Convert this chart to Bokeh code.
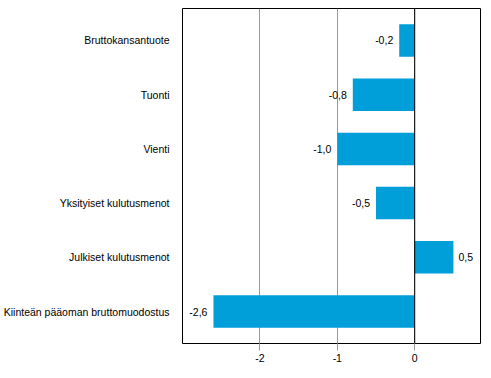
from bokeh.plotting import figure
from bokeh.models import ColumnDataSource, FactorRange, Range1d, FixedTicker, LabelSet, Span
from bokeh.core.properties import value
from bokeh.embed import file_html
from bokeh.resources import INLINE

categories = ["Bruttokansantuote", "Tuonti", "Vienti", "Yksityiset kulutusmenot",
              "Julkiset kulutusmenot", "Kiinteän pääoman bruttomuodostus"]
values = [-0.2, -0.8, -1.0, -0.5, 0.5, -2.6]
x_ticks = [-2, -1, 0]

FONT = "Liberation Sans"
FS = "10.5px"
labels = [("%.1f" % v).replace(".", ",") for v in values]
aligns = ["right" if v < 0 else "left" for v in values]
offsets = [-6 if v < 0 else 5 for v in values]

src = ColumnDataSource(dict(cat=categories, val=values, lab=labels, al=aligns, off=offsets))

p = figure(output_backend="svg", toolbar_location=None,
           y_range=FactorRange(factors=categories[::-1], range_padding=0.09,
                               range_padding_units="absolute"),
           x_range=Range1d(-3.0, 0.85),
           frame_width=298, frame_height=335,
           min_border_left=179, min_border_top=8, min_border_right=1, min_border_bottom=27)

p.hbar(y="cat", left=0, right="val", height=0.6, source=src, color="#009fda", line_color=None)

p.add_layout(Span(location=0, dimension="height", line_color="black", line_width=1))

p.add_layout(LabelSet(x="val", y="cat", text="lab", text_align="al", x_offset="off",
                      text_baseline="middle", source=src, text_font=value(FONT),
                      text_font_size=value(FS), text_color="#000000"))

p.outline_line_color = "black"
p.outline_line_width = 1
p.outline_line_alpha = 1

p.xaxis.ticker = FixedTicker(ticks=x_ticks)
p.xaxis.major_label_overrides = {t: str(t) for t in x_ticks}
p.xgrid.ticker = FixedTicker(ticks=x_ticks)
p.xgrid.grid_line_color = "#999999"
p.ygrid.grid_line_color = None
p.xaxis.axis_line_color = None
p.xaxis.major_tick_line_color = "#999999"
p.xaxis.major_tick_out = 7
p.xaxis.major_tick_in = 0
p.xaxis.minor_tick_line_color = None
p.xaxis.major_label_text_font = FONT
p.xaxis.major_label_text_font_size = FS
p.xaxis.major_label_text_color = "black"
p.xaxis.major_label_standoff = 3

p.yaxis.axis_line_color = None
p.yaxis.major_tick_line_color = None
p.yaxis.minor_tick_line_color = None
p.yaxis.major_label_text_font = FONT
p.yaxis.major_label_text_font_size = FS
p.yaxis.major_label_text_color = "black"
p.yaxis.major_label_standoff = 7

p.background_fill_color = "white"
p.border_fill_color = "white"

open("out.html", "w").write(file_html(p, INLINE))
